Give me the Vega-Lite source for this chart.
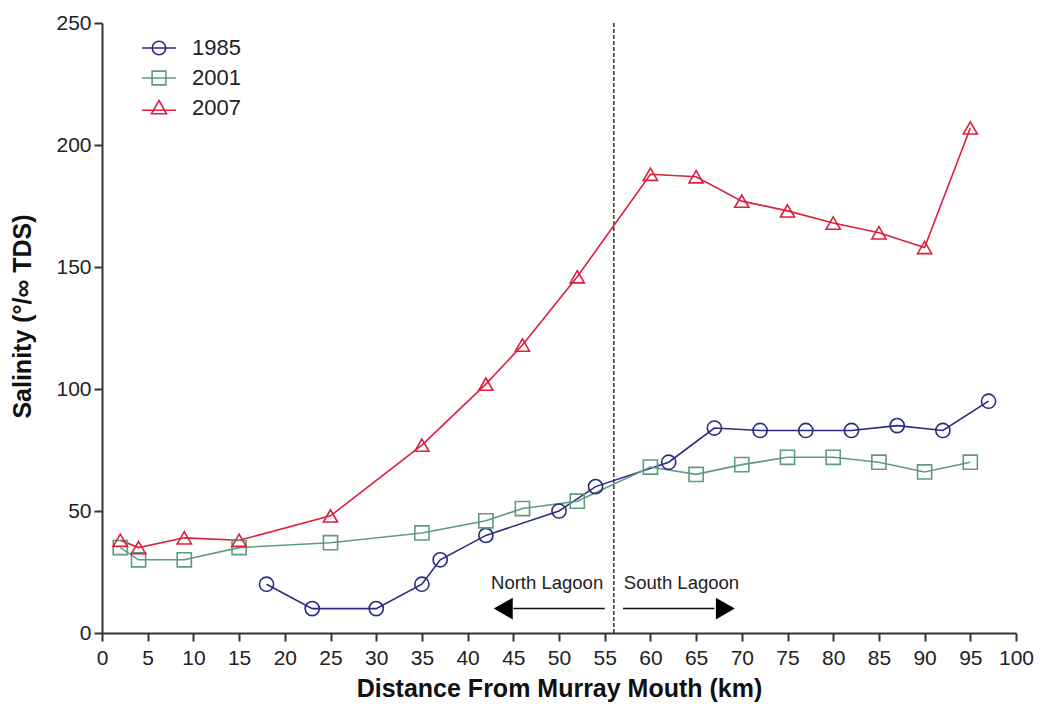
{
  "$schema": "https://vega.github.io/schema/vega-lite/v6.json",
  "width": 914,
  "height": 610,
  "autosize": {"type": "none"},
  "padding": {"left": 102, "top": 23, "right": 24, "bottom": 73},
  "background": "white",
  "config": {
    "view": {"stroke": null},
    "font": "Liberation Sans",
    "axis": {
      "grid": false,
      "domainColor": "#333333",
      "domainWidth": 2,
      "tickColor": "#333333",
      "tickWidth": 2,
      "tickSize": 8,
      "labelFont": "Liberation Sans",
      "labelFontSize": 21,
      "labelColor": "#222222",
      "titleFont": "Liberation Sans",
      "titleFontSize": 25,
      "titleFontWeight": "bold",
      "titleColor": "#111111"
    }
  },
  "datasets": {
    "series": [
      {"year": "1985", "km": 18, "salinity": 20},
      {"year": "1985", "km": 23, "salinity": 10},
      {"year": "1985", "km": 30, "salinity": 10},
      {"year": "1985", "km": 35, "salinity": 20},
      {"year": "1985", "km": 37, "salinity": 30},
      {"year": "1985", "km": 42, "salinity": 40},
      {"year": "1985", "km": 50, "salinity": 50},
      {"year": "1985", "km": 54, "salinity": 60},
      {"year": "1985", "km": 62, "salinity": 70},
      {"year": "1985", "km": 67, "salinity": 84},
      {"year": "1985", "km": 72, "salinity": 83},
      {"year": "1985", "km": 77, "salinity": 83},
      {"year": "1985", "km": 82, "salinity": 83},
      {"year": "1985", "km": 87, "salinity": 85},
      {"year": "1985", "km": 92, "salinity": 83},
      {"year": "1985", "km": 97, "salinity": 95},
      {"year": "2001", "km": 2, "salinity": 35},
      {"year": "2001", "km": 4, "salinity": 30},
      {"year": "2001", "km": 9, "salinity": 30},
      {"year": "2001", "km": 15, "salinity": 35},
      {"year": "2001", "km": 25, "salinity": 37},
      {"year": "2001", "km": 35, "salinity": 41},
      {"year": "2001", "km": 42, "salinity": 46},
      {"year": "2001", "km": 46, "salinity": 51},
      {"year": "2001", "km": 52, "salinity": 54},
      {"year": "2001", "km": 60, "salinity": 68},
      {"year": "2001", "km": 65, "salinity": 65},
      {"year": "2001", "km": 70, "salinity": 69},
      {"year": "2001", "km": 75, "salinity": 72},
      {"year": "2001", "km": 80, "salinity": 72},
      {"year": "2001", "km": 85, "salinity": 70},
      {"year": "2001", "km": 90, "salinity": 66},
      {"year": "2001", "km": 95, "salinity": 70},
      {"year": "2007", "km": 2, "salinity": 38},
      {"year": "2007", "km": 4, "salinity": 35},
      {"year": "2007", "km": 9, "salinity": 39},
      {"year": "2007", "km": 15, "salinity": 38},
      {"year": "2007", "km": 25, "salinity": 48},
      {"year": "2007", "km": 35, "salinity": 77},
      {"year": "2007", "km": 42, "salinity": 102},
      {"year": "2007", "km": 46, "salinity": 118},
      {"year": "2007", "km": 52, "salinity": 146},
      {"year": "2007", "km": 60, "salinity": 188},
      {"year": "2007", "km": 65, "salinity": 187},
      {"year": "2007", "km": 70, "salinity": 177},
      {"year": "2007", "km": 75, "salinity": 173},
      {"year": "2007", "km": 80, "salinity": 168},
      {"year": "2007", "km": 85, "salinity": 164},
      {"year": "2007", "km": 90, "salinity": 158},
      {"year": "2007", "km": 95, "salinity": 207}
    ],
    "divider": [{"km": 56}],
    "labels": [
      {"km": 48.7, "salinity": 20.5, "text": "North Lagoon"},
      {"km": 63.4, "salinity": 20.5, "text": "South Lagoon"}
    ],
    "shafts": [
      {"from": 55, "to": 45, "salinity": 10},
      {"from": 57, "to": 67, "salinity": 10}
    ],
    "heads": [
      {"km": 43.9, "salinity": 10, "dir": "left"},
      {"km": 68.2, "salinity": 10, "dir": "right"}
    ]
  },
  "layer": [
    {
      "data": {"name": "divider"},
      "mark": {"type": "rule", "color": "#333333", "strokeWidth": 1.5, "strokeDash": [4, 2]},
      "encoding": {
        "x": {"field": "km", "type": "quantitative",
          "scale": {"domain": [0, 100], "nice": false},
          "axis": {"values": [0,5,10,15,20,25,30,35,40,45,50,55,60,65,70,75,80,85,90,95,100],
            "title": "Distance From Murray Mouth (km)", "labelPadding": 6, "titlePadding": 8, "labelFlush": false}}
      }
    },
    {
      "data": {"name": "series"},
      "mark": {"type": "line", "strokeWidth": 1.6},
      "encoding": {
        "x": {"field": "km", "type": "quantitative"},
        "y": {"field": "salinity", "type": "quantitative",
          "scale": {"domain": [0, 250], "nice": false},
          "axis": {"values": [0, 50, 100, 150, 200, 250], "title": "Salinity (°/∞ TDS)", "labelPadding": 3, "titlePadding": 20, "titleY": 293}},
        "color": {"field": "year", "type": "nominal",
          "scale": {"domain": ["1985", "2001", "2007"], "range": ["#2A2A80", "#5E9C80", "#DC1F3C"]}},
        "detail": {"field": "year"}
      }
    },
    {
      "data": {"name": "series"},
      "transform": [{"filter": "datum.year === '1985'"}],
      "mark": {"type": "point", "shape": "circle", "filled": false, "size": 200, "strokeWidth": 1.6, "opacity": 1},
      "encoding": {
        "x": {"field": "km", "type": "quantitative"},
        "y": {"field": "salinity", "type": "quantitative"},
        "color": {"field": "year", "type": "nominal"}
      }
    },
    {
      "data": {"name": "series"},
      "transform": [{"filter": "datum.year === '2001'"}],
      "mark": {"type": "point", "shape": "square", "filled": false, "size": 200, "strokeWidth": 1.6, "opacity": 1},
      "encoding": {
        "x": {"field": "km", "type": "quantitative"},
        "y": {"field": "salinity", "type": "quantitative"},
        "color": {"field": "year", "type": "nominal"}
      }
    },
    {
      "data": {"name": "series"},
      "transform": [{"filter": "datum.year === '2007'"}],
      "mark": {"type": "point", "shape": "triangle-up", "filled": false, "size": 200, "strokeWidth": 1.6, "opacity": 1},
      "encoding": {
        "x": {"field": "km", "type": "quantitative"},
        "y": {"field": "salinity", "type": "quantitative"},
        "color": {"field": "year", "type": "nominal"}
      }
    },
    {
      "data": {"name": "series"},
      "transform": [{"filter": "false"}],
      "mark": {"type": "point", "filled": false, "strokeWidth": 1.6, "opacity": 1},
      "encoding": {
        "x": {"field": "km", "type": "quantitative"},
        "y": {"field": "salinity", "type": "quantitative"},
        "color": {"field": "year", "type": "nominal",
          "legend": {
            "orient": "none", "legendX": 41, "legendY": 9, "title": null,
            "symbolSize": 900, "symbolStrokeWidth": 1.6, "symbolFillColor": "transparent", "symbolOpacity": 1,
            "labelFontSize": 22, "labelFont": "Liberation Sans", "labelColor": "#222222",
            "labelOffset": 17, "rowPadding": 3, "padding": 0}},
        "shape": {"field": "year", "type": "nominal",
          "scale": {"domain": ["1985", "2001", "2007"],
            "range": [
              "M-1.13,0L1.13,0M0.45,0A0.45,0.45,0,1,1,-0.45,0A0.45,0.45,0,1,1,0.45,0Z",
              "M-1.13,0L1.13,0M-0.46,-0.46L0.46,-0.46L0.46,0.46L-0.46,0.46Z",
              "M-1.13,0.15L1.13,0.15M0,-0.5L0.5,0.38L-0.5,0.38Z"
            ]},
          "legend": {
            "orient": "none", "legendX": 41, "legendY": 9, "title": null,
            "symbolSize": 900, "symbolStrokeWidth": 1.6, "symbolFillColor": "transparent", "symbolOpacity": 1,
            "labelFontSize": 22, "labelFont": "Liberation Sans", "labelColor": "#222222",
            "labelOffset": 17, "rowPadding": 3, "padding": 0}}
      }
    },
    {
      "data": {"name": "labels"},
      "mark": {"type": "text", "font": "Liberation Sans", "fontSize": 18.5, "color": "#222222", "align": "center", "baseline": "middle"},
      "encoding": {
        "x": {"field": "km", "type": "quantitative"},
        "y": {"field": "salinity", "type": "quantitative"},
        "text": {"field": "text"}
      }
    },
    {
      "data": {"name": "shafts"},
      "mark": {"type": "rule", "color": "#111111", "strokeWidth": 1.5},
      "encoding": {
        "x": {"field": "from", "type": "quantitative"},
        "x2": {"field": "to"},
        "y": {"field": "salinity", "type": "quantitative"}
      }
    },
    {
      "data": {"name": "heads"},
      "transform": [{"filter": "datum.dir === 'left'"}],
      "mark": {"type": "point", "shape": "triangle-left", "filled": true, "color": "#000000", "size": 480, "opacity": 1},
      "encoding": {
        "x": {"field": "km", "type": "quantitative"},
        "y": {"field": "salinity", "type": "quantitative"}
      }
    },
    {
      "data": {"name": "heads"},
      "transform": [{"filter": "datum.dir === 'right'"}],
      "mark": {"type": "point", "shape": "triangle-right", "filled": true, "color": "#000000", "size": 480, "opacity": 1},
      "encoding": {
        "x": {"field": "km", "type": "quantitative"},
        "y": {"field": "salinity", "type": "quantitative"}
      }
    }
  ]
}
